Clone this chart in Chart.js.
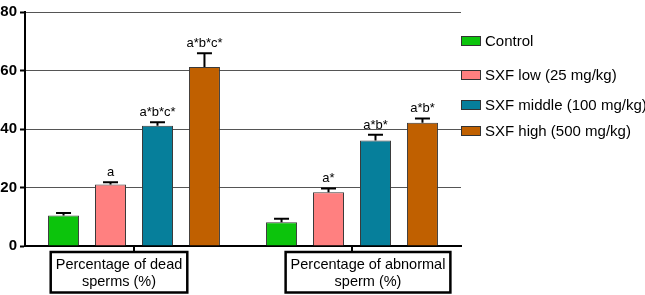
<!DOCTYPE html>
<html><head><meta charset="utf-8">
<script src="https://cdn.jsdelivr.net/npm/chart.js@4/dist/chart.umd.min.js"></script>
<style>html,body{margin:0;padding:0;background:#fff;overflow:hidden}canvas{display:block}</style>
</head><body>
<canvas id="c" width="645" height="295"></canvas>
<script>
// ---- data ----
const categories = [["Percentage of dead", "sperms (%)"], ["Percentage of abnormal", "sperm (%)"]];
const seriesNames = ["Control", "SXF low (25 mg/kg)", "SXF middle (100 mg/kg)", "SXF high (500 mg/kg)"];
const controlVals = [10.4, 8.1];
const lowVals = [21.0, 18.4];
const middleVals = [41.1, 36.1];
const highVals = [61.2, 42.1];
const controlErr = [0.9, 1.2];
const lowErr = [0.8, 1.3];
const middleErr = [1.2, 1.9];
const highErr = [4.7, 1.5];
const controlSig = ["", ""];
const lowSig = ["a", "a*"];
const middleSig = ["a*b*c*", "a*b*"];
const highSig = ["a*b*c*", "a*b*"];
const yTicks = [0, 20, 40, 60, 80];

// ---- styles ----
const colors = ["#0cc40c", "#ff8080", "#067f9b", "#c06000"];
const FONT = "Arial, 'Liberation Sans', sans-serif";
const legendY = [41, 75, 105, 131];
const boxOffsets = [-15, 16];

const errs = [controlErr, lowErr, middleErr, highErr];
const sigs = [controlSig, lowSig, middleSig, highSig];

const overlay = {
  id: 'overlay',
  afterDatasetsDraw(chart) {
    const ctx = chart.ctx;
    const y = chart.scales.y, x = chart.scales.x;
    ctx.save();
    // error bars + significance labels
    chart.data.datasets.forEach((ds, di) => {
      const meta = chart.getDatasetMeta(di);
      meta.data.forEach((bar, i) => {
        const top = y.getPixelForValue(ds.data[i] + errs[di][i]);
        ctx.strokeStyle = '#000';
        ctx.lineWidth = 2;
        ctx.beginPath();
        ctx.moveTo(bar.x, bar.y);
        ctx.lineTo(bar.x, top);
        ctx.moveTo(bar.x - 7.5, top);
        ctx.lineTo(bar.x + 7.5, top);
        ctx.stroke();
        const s = sigs[di][i];
        if (s) {
          ctx.fillStyle = '#000';
          ctx.font = '13px ' + FONT;
          ctx.textAlign = 'center';
          ctx.textBaseline = 'alphabetic';
          ctx.fillText(s, bar.x, top - 6);
        }
      });
    });
    // category ticks and boxed labels
    const base = y.getPixelForValue(0);
    ctx.font = '14.5px ' + FONT;
    categories.forEach((lab, i) => {
      const cx = x.getPixelForValue(i);
      ctx.strokeStyle = '#000';
      ctx.lineWidth = 2;
      ctx.beginPath();
      ctx.moveTo(cx, base);
      ctx.lineTo(cx, base + 6);
      ctx.stroke();
      const w = Math.max(...lab.map(t => ctx.measureText(t).width)) + 10;
      const bx = cx + boxOffsets[i];
      ctx.lineWidth = 2.5;
      ctx.strokeRect(bx - w / 2, base + 6, w, 40.5);
      ctx.fillStyle = '#000';
      ctx.textAlign = 'center';
      ctx.textBaseline = 'middle';
      lab.forEach((t, k) => ctx.fillText(t, bx, base + 19 + k * 17));
    });
    // legend
    ctx.textAlign = 'left';
    ctx.textBaseline = 'middle';
    chart.data.datasets.forEach((ds, di) => {
      const ly = legendY[di];
      ctx.fillStyle = colors[di];
      ctx.fillRect(461, ly - 5, 20, 10);
      ctx.strokeStyle = '#333';
      ctx.lineWidth = 1;
      ctx.strokeRect(461.5, ly - 4.5, 19, 9);
      ctx.fillStyle = '#000';
      ctx.font = '15px ' + FONT;
      ctx.fillText(ds.label, 485, ly + 0.5);
    });
    ctx.restore();
  }
};

new Chart(document.getElementById('c'), {
  type: 'bar',
  data: {
    labels: categories,
    datasets: [controlVals, lowVals, middleVals, highVals].map((d, i) => ({
      label: seriesNames[i],
      data: d,
      backgroundColor: colors[i],
      borderColor: '#3a3a3a',
      borderWidth: 1,
      categoryPercentage: 0.862,
      barPercentage: 0.66
    }))
  },
  options: {
    responsive: false,
    devicePixelRatio: 1,
    animation: false,
    layout: { padding: { left: 0, right: 184, top: 12, bottom: 0 } },
    plugins: { legend: { display: false }, tooltip: { enabled: false } },
    scales: {
      x: {
        grid: { display: false },
        ticks: { display: false },
        border: { display: true, color: '#000', width: 2 },
        afterFit(s) { s.height = 49; }
      },
      y: {
        min: 0, max: 80,
        afterBuildTicks(s) { s.ticks = yTicks.map(v => ({ value: v })); },
        ticks: { color: '#000', font: { family: FONT, size: 15, weight: 'bold' }, padding: 3 },
        grid: { color: '#555', lineWidth: 1, tickLength: 5, tickColor: '#000', tickWidth: 2 },
        border: { display: true, color: '#000', width: 2 },
        afterFit(s) { s.width = 25; }
      }
    }
  },
  plugins: [overlay]
});
</script>
</body></html>
